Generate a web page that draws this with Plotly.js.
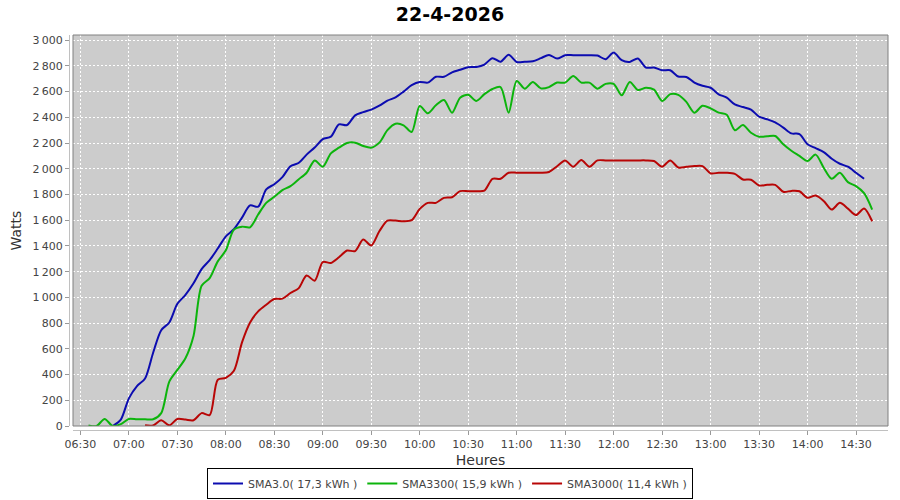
<!DOCTYPE html>
<html><head><meta charset="utf-8">
<script src="https://cdn.plot.ly/plotly-3.0.1.min.js"></script>
<style>html,body{margin:0;padding:0;background:#fff}</style>
</head><body><div id="chart" style="width:900px;height:500px"></div>
<script>
const chartTitle = '22-4-2026';
const day = '2026-04-22';
const xTitle = 'Heures';
const yTitle = 'Watts';

const times = [
  '06:30','06:35','06:40','06:45','06:50','06:55',
  '07:00','07:05','07:10','07:15','07:20','07:25','07:30','07:35','07:40','07:45','07:50','07:55',
  '08:00','08:05','08:10','08:15','08:20','08:25','08:30','08:35','08:40','08:45','08:50','08:55',
  '09:00','09:05','09:10','09:15','09:20','09:25','09:30','09:35','09:40','09:45','09:50','09:55',
  '10:00','10:05','10:10','10:15','10:20','10:25','10:30','10:35','10:40','10:45','10:50','10:55',
  '11:00','11:05','11:10','11:15','11:20','11:25','11:30','11:35','11:40','11:45','11:50','11:55',
  '12:00','12:05','12:10','12:15','12:20','12:25','12:30','12:35','12:40','12:45','12:50','12:55',
  '13:00','13:05','13:10','13:15','13:20','13:25','13:30','13:35','13:40','13:45','13:50','13:55',
  '14:00','14:05','14:10','14:15','14:20','14:25','14:30','14:35','14:40'
];

const sma30Name = 'SMA3.0( 17,3 kWh )';
const sma30 = [
  null, null, null, null, 0, 50,
  215, 310, 370, 570, 745, 805, 950, 1020, 1110, 1220, 1290, 1380,
  1475, 1530, 1620, 1715, 1705, 1840, 1880, 1935, 2020, 2045, 2110, 2165,
  2230, 2250, 2345, 2340, 2415, 2440, 2460, 2490, 2530, 2555, 2600, 2650,
  2675, 2670, 2715, 2715, 2750, 2770, 2790, 2792, 2810, 2860, 2832, 2886,
  2830, 2832, 2836, 2860, 2885, 2857, 2883, 2883, 2883, 2883, 2880, 2852,
  2904, 2844, 2831, 2857, 2787, 2787, 2766, 2766, 2717, 2714, 2670, 2645,
  2630, 2579, 2553, 2500, 2480, 2460, 2405, 2385, 2360, 2320, 2275, 2270,
  2190, 2160, 2130, 2078, 2039, 2016, 1969, 1922, null
];

const sma3300Name = 'SMA3300( 15,9 kWh )';
const sma3300 = [
  null, 5, 0, 55, 0, 15,
  55, 52, 52, 52, 100, 345, 436, 527, 700, 1090, 1150, 1280,
  1366, 1527, 1550, 1545, 1644, 1735, 1782, 1834, 1865, 1917, 1969, 2065,
  2016, 2120, 2164, 2200, 2203, 2177, 2164, 2203, 2300, 2350, 2338, 2286,
  2488, 2431, 2494, 2535, 2436, 2553, 2575, 2527, 2580, 2620, 2635, 2436,
  2683, 2623, 2675, 2625, 2635, 2670, 2670, 2722, 2670, 2670, 2623, 2660,
  2660, 2571, 2675, 2613, 2630, 2615, 2527, 2580, 2575, 2520, 2436, 2490,
  2470, 2436, 2420, 2300, 2340, 2280, 2249, 2252, 2255, 2190, 2140, 2100,
  2060, 2110, 2008, 1922, 1969, 1896, 1865, 1810, 1683
];

const sma3000Name = 'SMA3000( 11,4 kWh )';
const sma3000 = [
  null, null, null, null, null, null,
  null, null, 5, 5, 45, 5, 55, 50, 45, 100, 85, 360,
  375, 430, 650, 805, 891, 943, 987, 990, 1034, 1070, 1170, 1130,
  1275, 1268, 1312, 1364, 1360, 1450, 1403, 1514, 1597, 1597, 1592, 1600,
  1688, 1735, 1735, 1774, 1779, 1826, 1826, 1826, 1830, 1922, 1922, 1969,
  1969, 1969, 1969, 1969, 1975, 2020, 2065, 2016, 2068, 2016, 2065, 2065,
  2065, 2065, 2065, 2065, 2065, 2060, 2016, 2065, 2010, 2015, 2021, 2021,
  1964, 1969, 1969, 1960, 1917, 1915, 1870, 1875, 1875, 1821, 1828, 1825,
  1774, 1792, 1750, 1683, 1735, 1690, 1640, 1691, 1592
];

const xs = times.map(t => day + ' ' + t);
const font = 'DejaVu Sans, Verdana, sans-serif';

function mk(name, ys, color) {
  return {
    type: 'scatter', mode: 'lines', name: name, x: xs, y: ys,
    line: {color: color, width: 2, shape: 'spline', smoothing: 0.8},
    connectgaps: false, hoverinfo: 'x+y+name'
  };
}

const data = [
  mk(sma30Name, sma30, '#0c0cb0'),
  mk(sma3300Name, sma3300, '#0cb40c'),
  mk(sma3000Name, sma3000, '#b80606')
];

const axisCommon = {
  ticks: 'outside', ticklen: 4, tickcolor: '#999999', tickwidth: 1,
  showline: true, linecolor: '#c0c0c0', linewidth: 1,
  showgrid: true, gridcolor: '#ffffff', gridwidth: 1, griddash: '2px,2px',
  zeroline: false,
  tickfont: {family: font, size: 11, color: '#444444'}
};

const layout = {
  width: 900, height: 500,
  margin: {l: 69, r: 12, t: 35, b: 70, pad: 0},
  paper_bgcolor: '#ffffff', plot_bgcolor: '#cccccc',
  separators: ',\u2009',
  font: {family: font, color: '#444444'},
  title: {text: chartTitle, font: {family: font, size: 19, color: '#000000', weight: 'bold'},
          x: 0.5, xref: 'container', xanchor: 'center', y: 0.972, yref: 'container', yanchor: 'middle'},
  xaxis: Object.assign({}, axisCommon, {
    type: 'date', domain: [0.0049, 1], anchor: 'free', position: 0,
    range: [day + ' 06:25:25', day + ' 14:49:48'],
    tick0: day + ' 06:30', dtick: 1800000, tickformat: '%H:%M',
    title: {text: xTitle, font: {family: font, size: 14, color: '#333333'}, standoff: 6}
  }),
  yaxis: Object.assign({}, axisCommon, {
    domain: [0.0101, 1], anchor: 'free', position: 0,
    range: [0, 3040], tick0: 0, dtick: 200, tickformat: ',d',
    title: {text: yTitle, font: {family: font, size: 14, color: '#333333'}, standoff: 6}
  }),
  showlegend: true,
  legend: {
    orientation: 'h', xref: 'container', x: 0.5, xanchor: 'center',
    yref: 'container', y: 0.002, yanchor: 'bottom',
    bordercolor: '#000000', borderwidth: 1, bgcolor: '#ffffff',
    font: {family: font, size: 11, color: '#444444'},
    itemwidth: 30, tracegroupgap: 0
  },
  shapes: [{
    type: 'rect', xref: 'x domain', yref: 'y domain', x0: 0, x1: 1, y0: 0, y1: 1,
    line: {color: '#808080', width: 1}, fillcolor: 'rgba(0,0,0,0)', layer: 'above'
  }]
};

Plotly.newPlot('chart', data, layout, {displayModeBar: false, staticPlot: true});
</script>
</body></html>
